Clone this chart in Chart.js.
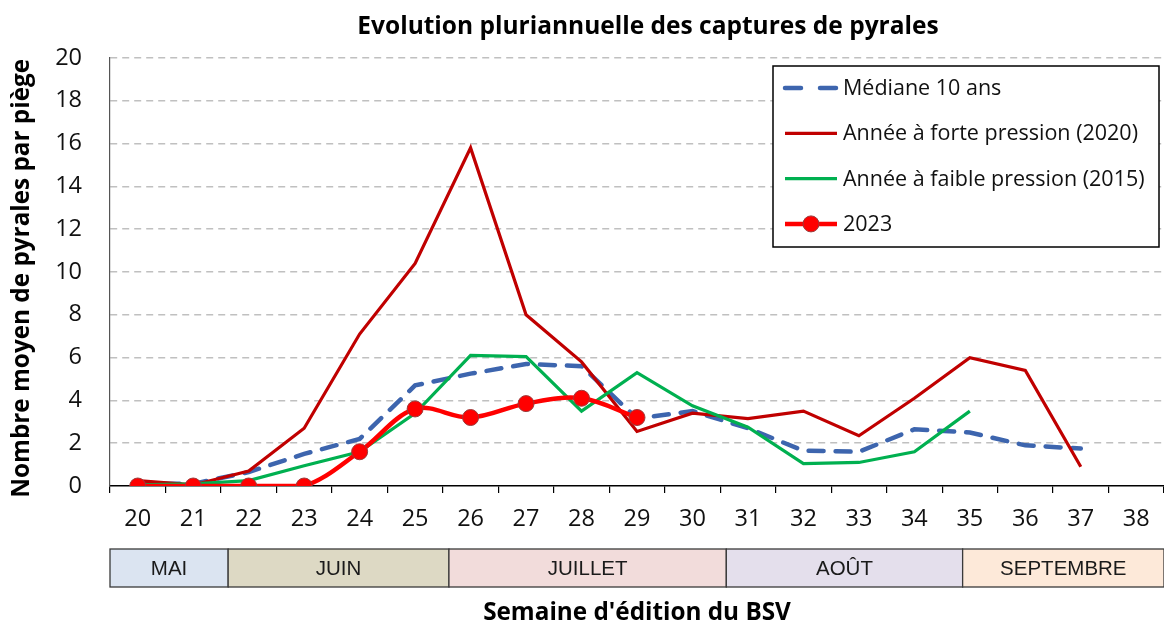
<!DOCTYPE html>
<html><head><meta charset="utf-8">
<script src="https://cdn.jsdelivr.net/npm/chart.js@4.4.0/dist/chart.umd.min.js"></script>
<style>html,body{margin:0;padding:0;background:#fff;}#wrap{width:1164px;height:620px;}</style>
</head><body><div id="wrap"><canvas id="c" width="1164" height="620"></canvas></div>
<script>
// ---- data ----
const weeks = ['20','21','22','23','24','25','26','27','28','29','30','31','32','33','34','35','36','37','38'];
const mediane10ans = [0.1, 0.1, 0.65, 1.5, 2.2, 4.7, 5.25, 5.7, 5.6, 3.15, 3.5, 2.7, 1.65, 1.6, 2.65, 2.5, 1.9, 1.75, null];
const forte2020   = [0.25, 0.05, 0.7, 2.7, 7.1, 10.4, 15.8, 8.0, 5.8, 2.55, 3.4, 3.15, 3.5, 2.35, 4.1, 6.0, 5.4, 0.9, null];
const faible2015  = [0.05, 0.1, 0.25, 0.95, 1.6, 3.4, 6.1, 6.05, 3.5, 5.3, 3.75, 2.75, 1.05, 1.1, 1.6, 3.5, null, null, null];
const annee2023   = [0, 0, 0, 0, 1.6, 3.6, 3.2, 3.85, 4.1, 3.2, null, null, null, null, null, null, null, null, null];
const seriesNames = ['Médiane 10 ans', 'Année à forte pression (2020)', 'Année à faible pression (2015)', '2023'];
const monthNames = ['MAI', 'JUIN', 'JUILLET', 'AOÛT', 'SEPTEMBRE'];
const monthEdgesWeek = [19.5, 21.63, 25.61, 30.61, 34.87, 38.5];
const yTickValues = [0, 2, 4, 6, 8, 10, 12, 14, 16, 18, 20];
const chartTitle = 'Evolution pluriannuelle des captures de pyrales';

// ---- styles ----
const monthFill = ['#dbe4f1', '#ddd9c4', '#f2dcdb', '#e4dfec', '#fde9d9'];
const FONT = '"Open Sans", Lato, sans-serif';
const firstWeek = Number(weeks[0]);

const titlePlugin = {
  id: 'topTitle',
  afterDraw(chart) {
    const ctx = chart.ctx, ca = chart.chartArea;
    ctx.save();
    ctx.fillStyle = '#000';
    ctx.font = 'bold 24.5px ' + FONT;
    ctx.textAlign = 'center';
    ctx.textBaseline = 'middle';
    ctx.fillText(chartTitle, (ca.left + ca.right) / 2 + 11, ca.top - 31);
    ctx.restore();
  }
};

const legendPlugin = {
  id: 'boxLegend',
  afterDraw(chart) {
    const ctx = chart.ctx, ca = chart.chartArea;
    const x0 = ca.right - 391, y0 = ca.top + 8, w = 386, h = 181;
    ctx.save();
    ctx.fillStyle = '#fff';
    ctx.fillRect(x0, y0, w, h);
    ctx.strokeStyle = '#000';
    ctx.lineWidth = 1.5;
    ctx.strokeRect(x0, y0, w, h);
    chart.data.datasets.forEach((ds, i) => {
      const cy = y0 + 22 + i * 45.3;
      ctx.save();
      ctx.strokeStyle = ds.borderColor;
      ctx.lineWidth = ds.borderWidth;
      ctx.lineCap = ds.borderCapStyle || 'butt';
      ctx.setLineDash(ds.borderDash ? [16, 19] : []);
      ctx.beginPath();
      ctx.moveTo(x0 + 12, cy);
      ctx.lineTo(x0 + 64, cy);
      ctx.stroke();
      ctx.setLineDash([]);
      if (ds.pointRadius) {
        ctx.beginPath();
        ctx.arc(x0 + 38, cy, ds.pointRadius, 0, Math.PI * 2);
        ctx.fillStyle = ds.pointBackgroundColor;
        ctx.fill();
        ctx.lineWidth = ds.pointBorderWidth;
        ctx.strokeStyle = ds.pointBorderColor;
        ctx.stroke();
      }
      ctx.restore();
      ctx.fillStyle = '#111';
      ctx.font = '21.5px ' + FONT;
      ctx.textBaseline = 'middle';
      ctx.textAlign = 'left';
      ctx.fillText(ds.label, x0 + 70, cy + 1);
    });
    ctx.restore();
  }
};

const monthPlugin = {
  id: 'monthBands',
  afterDraw(chart) {
    const ctx = chart.ctx, ca = chart.chartArea, xs = chart.scales.x;
    const top = ca.bottom + 63, bot = ca.bottom + 101;
    ctx.save();
    for (let i = 0; i < monthNames.length; i++) {
      const xa = xs.getPixelForValue(monthEdgesWeek[i] - firstWeek);
      const xb = xs.getPixelForValue(monthEdgesWeek[i + 1] - firstWeek);
      ctx.fillStyle = monthFill[i];
      ctx.fillRect(xa, top, xb - xa, bot - top);
      ctx.strokeStyle = '#3a3a3a';
      ctx.lineWidth = 1.3;
      ctx.strokeRect(xa, top, xb - xa, bot - top);
      ctx.fillStyle = '#1a1a1a';
      ctx.font = '20.5px "Liberation Sans", Arial, sans-serif';
      ctx.textAlign = 'center';
      ctx.textBaseline = 'middle';
      ctx.fillText(monthNames[i], (xa + xb) / 2, (top + bot) / 2 + 1);
    }
    ctx.restore();
  }
};

new Chart(document.getElementById('c'), {
  type: 'line',
  data: {
    labels: weeks,
    datasets: [
      { label: seriesNames[0], data: mediane10ans, borderColor: '#3d65ae', borderWidth: 4.5, borderDash: [15, 12], borderCapStyle: 'round',
        pointRadius: 0, tension: 0, order: 3, fill: false },
      { label: seriesNames[1], data: forte2020, borderColor: '#c00000', borderWidth: 3.2, pointRadius: 0, tension: 0, order: 2, fill: false },
      { label: seriesNames[2], data: faible2015, borderColor: '#00b050', borderWidth: 3.2, pointRadius: 0, tension: 0, order: 1, fill: false },
      { label: seriesNames[3], data: annee2023, borderColor: '#ff0000', borderWidth: 4.5, tension: 0.35,
        pointRadius: 8, pointBackgroundColor: '#ff0000', pointBorderColor: '#9b3b3b', pointBorderWidth: 1, order: 0, fill: false }
    ]
  },
  options: {
    responsive: false,
    animation: false,
    events: [],
    layout: { autoPadding: false, padding: { left: 0, right: 0, top: 58, bottom: 0 } },
    plugins: {
      legend: { display: false },
      tooltip: { enabled: false },
      title: { display: false }
    },
    scales: {
      x: {
        type: 'category',
        offset: true,
        grid: { display: true, drawOnChartArea: false, drawTicks: true, tickLength: 7, offset: true, color: '#000', lineWidth: 1.2 },
        border: { display: true, color: '#000', width: 1.5 },
        ticks: { font: { family: FONT, size: 23.5 }, color: '#111', padding: 12.6, maxRotation: 0, autoSkip: false },
        title: { display: true, text: "Semaine d'édition du BSV", font: { family: FONT, size: 24.3, weight: 'bold' }, color: '#000', padding: { top: 0, bottom: -7.4 } },
        afterFit(s) { s.height = 134; }
      },
      y: {
        min: 0, max: 20,
        afterBuildTicks(s) { s.ticks = yTickValues.map(v => ({ value: v })); },
        grid: { drawTicks: false, color: (c) => c.tick && c.tick.value === 0 ? 'rgba(0,0,0,0)' : '#c0c0c0', lineWidth: 1.5 },
        border: { display: true, color: '#555', width: 1.2, dash: [7, 5] },
        ticks: { font: { family: FONT, size: 23.5 }, color: '#111', padding: 28 },
        title: { display: true, text: 'Nombre moyen de pyrales par piège  ', font: { family: FONT, size: 24.3, weight: 'bold' }, color: '#000', padding: { top: 7.7, bottom: 0 } },
        afterFit(s) { s.width = 110; }
      }
    }
  },
  plugins: [monthPlugin, legendPlugin, titlePlugin]
});
</script>
</body></html>
